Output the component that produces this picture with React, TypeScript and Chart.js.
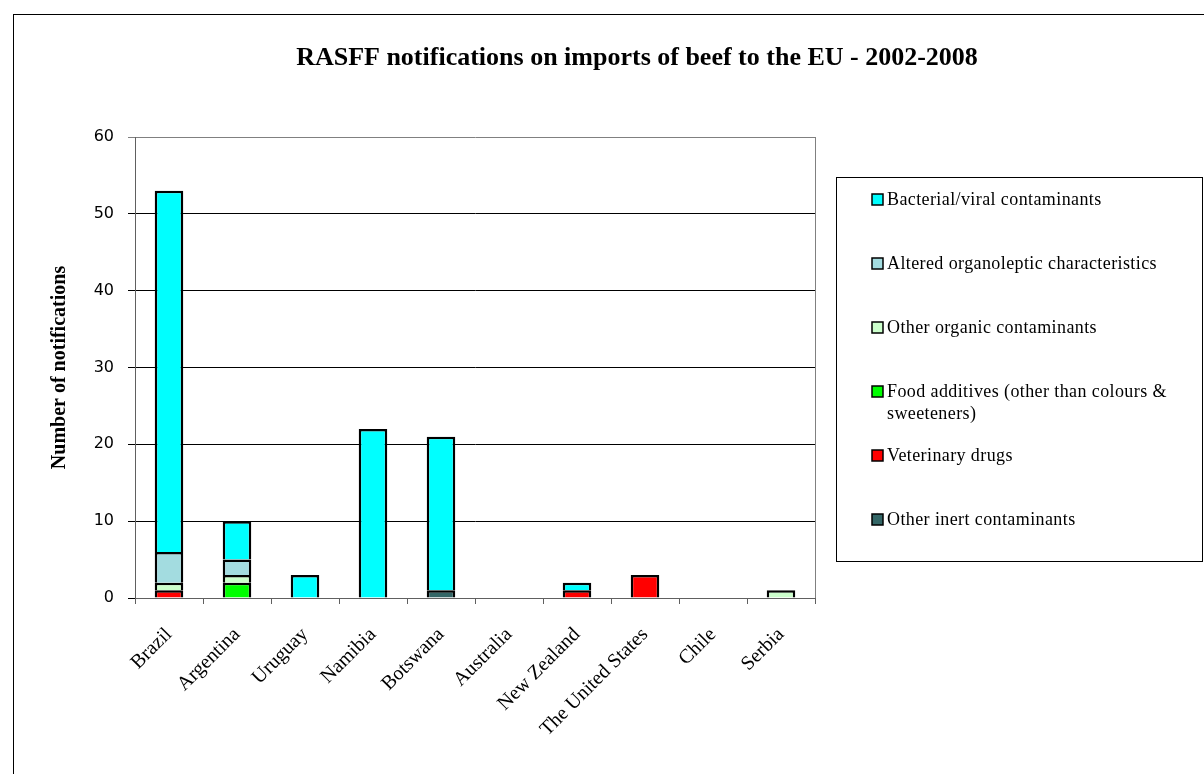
import React, { useEffect, useRef } from "react";
import { Chart, registerables } from "chart.js";

Chart.register(...registerables);

const countries = [
  "Brazil",
  "Argentina",
  "Uruguay",
  "Namibia",
  "Botswana",
  "Australia",
  "New Zealand",
  "The United States",
  "Chile",
  "Serbia",
];

// stack order bottom -> top
const otherInert = [0, 0, 0, 0, 1, 0, 0, 0, 0, 0];
const veterinaryDrugs = [1, 0, 0, 0, 0, 0, 1, 3, 0, 0];
const foodAdditives = [0, 2, 0, 0, 0, 0, 0, 0, 0, 0];
const otherOrganic = [1, 1, 0, 0, 0, 0, 0, 0, 0, 1];
const alteredOrganoleptic = [4, 2, 0, 0, 0, 0, 0, 0, 0, 0];
const bacterialViral = [47, 5, 3, 22, 20, 0, 1, 0, 0, 0];

const yTicks = [0, 10, 20, 30, 40, 50, 60];

const titleText = "RASFF notifications on imports of beef to the EU - 2002-2008";
const yAxisTitle = "Number of notifications";

const SERIF = "'Liberation Serif', 'Times New Roman', serif";
const SANS = "'DejaVu Sans', Tahoma, sans-serif";

const decorPlugin = {
  id: "decor",
  afterDraw(chart: any) {
    const ctx = chart.ctx as CanvasRenderingContext2D;
    const area = chart.chartArea;
    ctx.save();
    // outer frame
    ctx.strokeStyle = "#000";
    ctx.lineWidth = 1;
    ctx.strokeRect(13.5, 14.5, 1400, 1000);

    // plot area right border
    ctx.strokeStyle = "#808080";
    ctx.beginPath();
    ctx.moveTo(Math.round(area.right) + 0.5, area.top);
    ctx.lineTo(Math.round(area.right) + 0.5, area.bottom);
    ctx.stroke();

    // title
    ctx.fillStyle = "#000";
    ctx.font = `bold 26px ${SERIF}`;
    ctx.textAlign = "center";
    ctx.textBaseline = "middle";
    ctx.fillText(titleText, 637, 58);

    // legend box
    const lx = 836.5,
      ly = 177.5,
      lw = 366,
      lh = 384;
    ctx.strokeStyle = "#000";
    ctx.lineWidth = 1;
    ctx.strokeRect(lx, ly, lw, lh);

    ctx.font = `18px ${SERIF}`;
    (ctx as any).letterSpacing = "0.4px";
    ctx.textAlign = "left";
    ctx.textBaseline = "middle";
    const ds = chart.data.datasets.slice().reverse();
    const startY = 199;
    const step = 64;
    const textX = 887;
    const maxW = 300;
    ds.forEach((d: any, i: number) => {
      const cy = startY + i * step;
      ctx.fillStyle = d.backgroundColor;
      ctx.fillRect(872, cy - 5, 11, 11);
      ctx.strokeStyle = "#000";
      ctx.lineWidth = 1.5;
      ctx.strokeRect(872, cy - 5, 11, 11);
      const words = String(d.label).split(" ");
      const lines: string[] = [];
      let cur = "";
      words.forEach((w) => {
        const test = cur ? cur + " " + w : w;
        if (ctx.measureText(test).width > maxW && cur) {
          lines.push(cur);
          cur = w;
        } else cur = test;
      });
      if (cur) lines.push(cur);
      ctx.fillStyle = "#000";
      lines.forEach((ln, j) => {
        ctx.fillText(ln, textX, cy + 1 + j * 22);
      });
    });
    ctx.restore();
  },
};

export default function App() {
  const ref = useRef<HTMLCanvasElement | null>(null);

  useEffect(() => {
    document.body.style.margin = "0";
    document.body.style.overflow = "hidden";
    const canvas = ref.current;
    if (!canvas) return;
    const mk = (label: string, data: number[], color: string) => ({
      label,
      data: data.map((v) => (v === 0 ? null : v)),
      backgroundColor: color,
      borderColor: "#000",
      borderWidth: 2.5,
      borderSkipped: "start",
      inflateAmount: 0,
      categoryPercentage: 1,
      barPercentage: 0.42,
    });
    const chart = new Chart(canvas, {
      type: "bar",
      data: {
        labels: countries,
        datasets: [
          mk("Other inert contaminants", otherInert, "#336666"),
          mk("Veterinary drugs", veterinaryDrugs, "#FF0000"),
          mk("Food additives (other than colours & sweeteners)", foodAdditives, "#00FF00"),
          mk("Other organic contaminants", otherOrganic, "#CCFFCC"),
          mk("Altered organoleptic characteristics", alteredOrganoleptic, "#A3DCE0"),
          mk("Bacterial/viral contaminants", bacterialViral, "#00FFFF"),
        ],
      },
      options: {
        responsive: false,
        animation: false,
        layout: { padding: { left: 40, right: 389, top: 137, bottom: 0 } },
        plugins: {
          legend: { display: false },
          title: { display: false },
          tooltip: { enabled: false },
        },
        scales: {
          x: {
            stacked: true,
            offset: true,
            grid: {
              offset: true,
              drawOnChartArea: false,
              drawTicks: true,
              tickLength: 6,
              color: "#606060",
            },
            border: { color: "#606060", width: 1 },
            ticks: {
              maxRotation: 45,
              minRotation: 45,
              autoSkip: false,
              color: "#000",
              font: { family: SERIF, size: 20 },
              padding: 19,
            },
            afterFit(scale: any) {
              scale.height = 774 - 598;
            },
          },
          y: {
            stacked: true,
            min: 0,
            max: 60,
            afterBuildTicks(scale: any) {
              scale.ticks = yTicks.map((v) => ({ value: v }));
            },
            grid: {
              color: (c: any) => (c.tick && c.tick.value === 60 ? "#808080" : "#000"),
              tickLength: 7,
              lineWidth: 1,
            },
            border: { color: "#606060", width: 1 },
            ticks: {
              color: "#000",
              font: { family: SANS, size: 16 },
              padding: 14,
            },
            title: {
              display: true,
              text: yAxisTitle,
              color: "#000",
              font: { family: SERIF, size: 20, weight: "bold" },
              padding: { top: 8, bottom: 0 },
            },
            afterFit(scale: any) {
              scale.width = 135 - 40;
            },
          },
        },
      },
      plugins: [decorPlugin],
    } as any);
    return () => chart.destroy();
  }, []);

  return (
    <div style={{ width: 1204, height: 774, background: "#fff" }}>
      <canvas ref={ref} width={1204} height={774} style={{ display: "block", width: 1204, height: 774 }} />
    </div>
  );
}
